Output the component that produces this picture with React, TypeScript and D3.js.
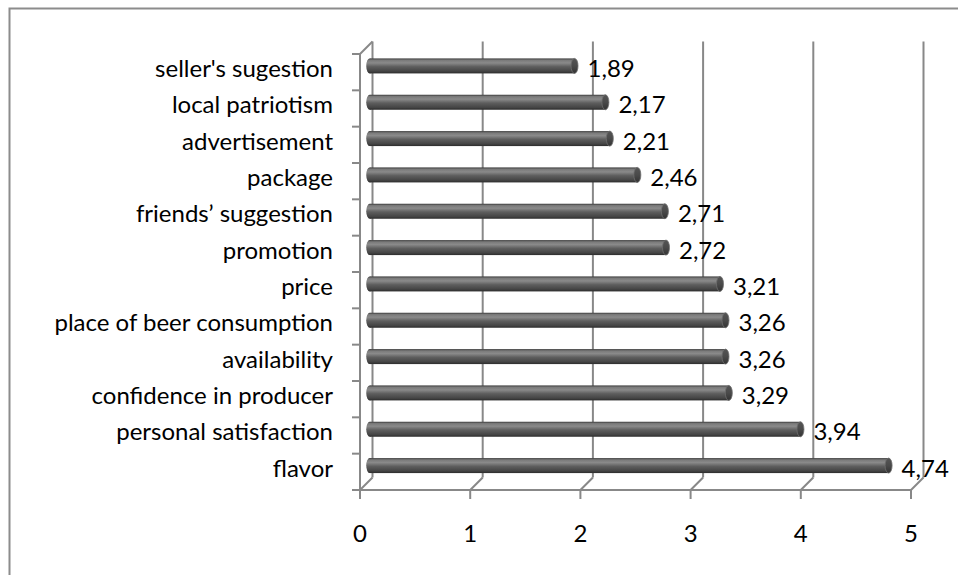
import { useEffect } from "react";
import * as d3 from "d3";

const categories = [
  "seller's sugestion",
  "local patriotism",
  "advertisement",
  "package",
  "friends’ suggestion",
  "promotion",
  "price",
  "place of beer consumption",
  "availability",
  "confidence in producer",
  "personal satisfaction",
  "flavor",
];
const values = [1.89, 2.17, 2.21, 2.46, 2.71, 2.72, 3.21, 3.26, 3.26, 3.29, 3.94, 4.74];
const xTicks = [0, 1, 2, 3, 4, 5];

const W = 958;
const H = 575;
const FONT = "Lato, 'Open Sans', sans-serif";
const FS = 24;
const GRID = "#888888";

export default function App() {
  useEffect(() => {
    document.body.style.margin = "0";
  }, []);

  const margin = { top: 54, right: 47, bottom: 85, left: 360 };
  const floorY = H - margin.bottom;
  const x = d3.scaleLinear().domain([0, 5]).range([margin.left, W - margin.right]);
  const y = d3.scaleBand().domain(categories).range([margin.top, floorY]);
  const dx = 12.5;
  const dy = -12.5;
  const barH = 15;
  const fmt = (v: number) => v.toFixed(2).replace(".", ",");

  return (
    <svg width={W} height={H} style={{ display: "block", background: "#fff" }} fontFamily={FONT}>
      <defs>
        <linearGradient id="cyl" x1="0" y1="0" x2="0" y2="1">
          <stop offset="0" stopColor="#3a3a3a" />
          <stop offset="0.12" stopColor="#7a7a7a" />
          <stop offset="0.3" stopColor="#8a8a8a" />
          <stop offset="0.55" stopColor="#5e5e5e" />
          <stop offset="0.85" stopColor="#454545" />
          <stop offset="1" stopColor="#2c2c2c" />
        </linearGradient>
        <linearGradient id="cap" x1="0" y1="0" x2="0" y2="1">
          <stop offset="0" stopColor="#555" />
          <stop offset="0.5" stopColor="#4a4a4a" />
          <stop offset="1" stopColor="#333" />
        </linearGradient>
      </defs>

      {/* outer frame */}
      <rect x={9.5} y={8.5} width={W + 10} height={H + 10} fill="none" stroke="#8c8c8c" strokeWidth={2} />

      {/* back wall gridlines + floor diagonals */}
      {xTicks.map((t) => (
        <g key={t} stroke={GRID} strokeWidth={2} fill="none">
          <line x1={x(t) + dx} x2={x(t) + dx} y1={margin.top + dy} y2={floorY + dy} />
          <line x1={x(t)} y1={floorY} x2={x(t) + dx} y2={floorY + dy} />
          <line x1={x(t)} x2={x(t)} y1={floorY} y2={floorY + 9} />
        </g>
      ))}
      {/* floor front edge */}
      <line x1={x(0)} x2={x(5)} y1={floorY} y2={floorY} stroke={GRID} strokeWidth={2} />
      {/* left wall */}
      <line x1={x(0)} x2={x(0)} y1={margin.top} y2={floorY} stroke={GRID} strokeWidth={2} />
      <line x1={x(0)} y1={margin.top} x2={x(0) + dx} y2={margin.top + dy} stroke={GRID} strokeWidth={2} />
      {/* category ticks */}
      {categories.map((c) => (
        <line key={c} x1={x(0) - 8} x2={x(0)} y1={y(c)!} y2={y(c)!} stroke={GRID} strokeWidth={2} />
      ))}
      <line x1={x(0) - 8} x2={x(0)} y1={floorY} y2={floorY} stroke={GRID} strokeWidth={2} />

      {/* bars */}
      {categories.map((c, i) => {
        const cy = y(c)! + y.bandwidth() / 2 + dy / 2;
        const x0 = x(0) + dx / 2;
        const x1 = x(values[i]) + dx / 2;
        const rx = 3.5;
        return (
          <g key={c}>
            <ellipse cx={x0 + rx} cy={cy} rx={rx} ry={barH / 2} fill="url(#cyl)" />
            <rect x={x0 + rx} y={cy - barH / 2} width={x1 - x0 - rx} height={barH} fill="url(#cyl)" />
            <ellipse cx={x1} cy={cy} rx={rx} ry={barH / 2} fill="url(#cap)" stroke="#6e6e6e" strokeWidth={0.8} />
            <text
              x={x(values[i]) + dx / 2 + 13}
              y={y(c)! + y.bandwidth() / 2}
              dy="0.2em"
              fontSize={FS}
              fill="#000"
            >
              {fmt(values[i])}
            </text>
          </g>
        );
      })}

      {/* category labels */}
      {categories.map((c) => (
        <text
          key={c}
          x={333}
          y={y(c)! + y.bandwidth() / 2}
          dy="0.2em"
          textAnchor="end"
          fontSize={FS}
          fill="#000"
        >
          {c}
        </text>
      ))}

      {/* x tick labels */}
      {xTicks.map((t) => (
        <text key={t} x={x(t)} y={534} dy="0.35em" textAnchor="middle" fontSize={FS} fill="#000">
          {t}
        </text>
      ))}
    </svg>
  );
}
